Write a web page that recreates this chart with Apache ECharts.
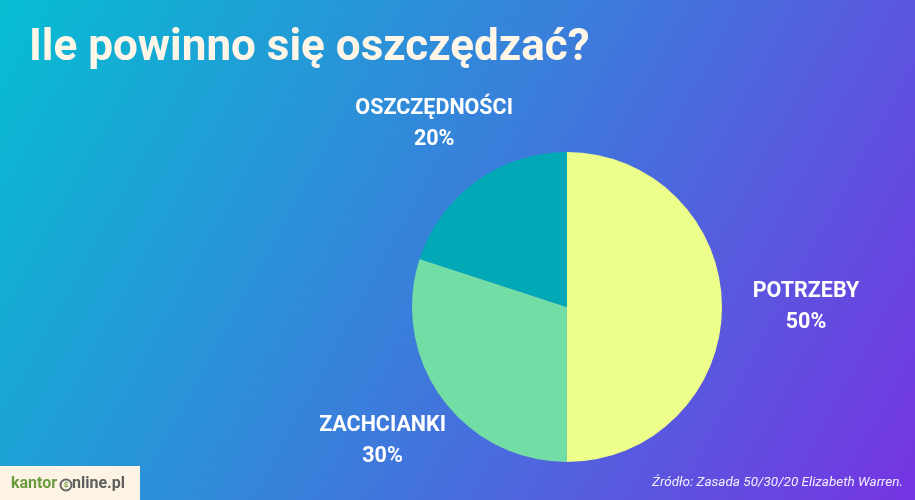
<!doctype html>
<html>
<head>
<meta charset="UTF-8">
<script src="https://cdn.jsdelivr.net/npm/echarts@6/dist/echarts.min.js"></script>
<style>
  html, body { margin: 0; padding: 0; }
  #main { width: 915px; height: 500px; }
</style>
</head>
<body>
<div id="main"></div>
<script type="text/javascript">
// dane wykresu
var categories = ['POTRZEBY', 'ZACHCIANKI', 'OSZCZĘDNOŚCI'];
var values = [50, 30, 20];
var sliceColors = ['#EEFE8A', '#72DDA5', '#00A9B5'];

// układ
var cx = 567, cy = 307, radius = 155;
var labelRadii = [239, 228, 226];

var myChart = echarts.init(document.getElementById('main'));

// środkowe kąty wycinków (start 90°, zgodnie z ruchem wskazówek)
var total = values.reduce(function (a, b) { return a + b; }, 0);
var midAngles = [];
var acc = 0;
values.forEach(function (v) {
    midAngles.push(90 - (acc + v / 2) / total * 360);
    acc += v;
});

var option = {
    backgroundColor: {
        type: 'linear', x: 0, y: 0, x2: 1, y2: 1,
        colorStops: [
            { offset: 0, color: '#06BED2' },
            { offset: 0.5, color: '#3B7DDB' },
            { offset: 1, color: '#7634E2' }
        ]
    },
    title: {
        text: 'Ile powinno się oszczędzać?',
        left: 24,
        top: 22,
        textStyle: {
            color: '#FFF6E8',
            fontFamily: 'Roboto',
            fontWeight: 'bold',
            fontSize: 44
        }
    },
    series: [{
        type: 'pie',
        center: [cx, cy],
        radius: radius,
        startAngle: 90,
        clockwise: true,
        animation: false,
        silent: true,
        data: categories.map(function (c, i) {
            return { name: c, value: values[i], itemStyle: { color: sliceColors[i] } };
        }),
        label: {
            show: true,
            position: 'outside',
            formatter: '{b}\n{d}%',
            color: '#FFFFFF',
            fontFamily: 'Roboto',
            fontWeight: 'bold',
            fontSize: 21.5,
            lineHeight: 31,
            align: 'center'
        },
        labelLine: { show: false },
        labelLayout: function (params) {
            var i = params.dataIndex;
            var a = midAngles[i] * Math.PI / 180;
            return {
                x: cx + labelRadii[i] * Math.cos(a),
                y: cy - labelRadii[i] * Math.sin(a),
                align: 'center',
                verticalAlign: 'middle'
            };
        }
    }],
    graphic: [
        {
            type: 'rect',
            shape: { x: 0, y: 466, width: 140, height: 34 },
            style: { fill: '#FDF3E4' }
        },
        {
            type: 'text',
            x: 11, y: 484,
            style: {
                text: 'kantor',
                fill: '#6B9A3E',
                font: 'bold 16px Roboto',
                verticalAlign: 'middle'
            }
        },
        {
            type: 'circle',
            shape: { cx: 66, cy: 485, r: 5.5 },
            style: { fill: 'none', stroke: '#666', lineWidth: 2 }
        },
        {
            type: 'text',
            x: 66, y: 485,
            style: {
                text: '$',
                fill: '#6B9A3E',
                font: 'bold 8px Roboto',
                align: 'center',
                verticalAlign: 'middle'
            }
        },
        {
            type: 'text',
            x: 72, y: 484,
            style: {
                text: 'nline.pl',
                fill: '#5E5E5E',
                font: 'bold 16px Roboto',
                verticalAlign: 'middle'
            }
        },
        {
            type: 'text',
            right: 12, top: 476,
            style: {
                text: 'Źródło: Zasada 50/30/20 Elizabeth Warren.',
                fill: '#F2EEFF',
                font: 'italic 13.5px Roboto'
            }
        }
    ]
};

myChart.setOption(option);
</script>
</body>
</html>
